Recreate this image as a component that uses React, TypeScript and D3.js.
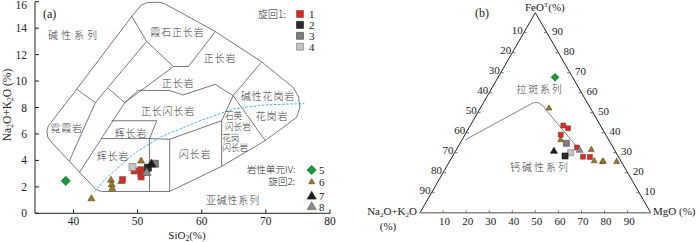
import React from 'react';
import * as d3 from 'd3';

// ---------- Panel (a) TAS data: [SiO2, Na2O+K2O] ----------
const tasRed = [[47.65, 2.55], [49.45, 3.2], [50.45, 3.3], [50.5, 3.0], [50.55, 2.75], [51.0, 3.1]];
const tasBlack = [[51.6, 3.45]];
const tasGray = [[52.7, 3.75]];
const tasLight = [[49.2, 3.5]];
const tasGreen = [[38.8, 2.45]];
const tasOlive = [[42.8, 1.1], [45.85, 2.5], [45.95, 2.15], [46.05, 1.85], [47.45, 2.4], [50.55, 3.95]];
const tasBlackTri = [[52.15, 3.7]];
const tasGrayTri = [[51.4, 3.05]];

const xTicks = [40, 50, 60, 70, 80];
const yTicks = [0, 2, 4, 6, 8, 10, 12, 14, 16];

// TAS field boundaries (Wilson 1989 plutonic), [SiO2, alkali]
const outerLine = [[36.1, 6.62], [40.5, 9.38], [49.1, 14.9], [50.6, 15.75], [51.6, 15.95], [53.5, 15.95], [54.2, 15.85], [62.1, 13.75], [69.35, 11.45], [74.3, 9.5], [75.1, 8.8], [75.3, 8.0], [74.8, 7.25], [69.9, 5.5], [63.1, 3.55], [55.0, 1.65], [44.4, 1.65], [43.6, 1.78], [43.2, 1.95], [36.7, 5.3], [36.0, 5.75], [35.85, 6.25], [36.1, 6.62]];
const lineB = [[40.5, 9.38], [43.4, 8.37]];
const lineC = [[43.4, 8.37], [51.4, 13.0]];
const lineE = [[43.4, 8.37], [39.35, 3.95]];
const linePhon = [[49.1, 14.9], [51.4, 13.0], [55.6, 11.1], [57.95, 11.1], [62.1, 13.75]];
const lineD = [[45.4, 9.45], [48.0, 8.37]];
const lineF = [[48.0, 8.37], [40.95, 3.11]];
const lineBen = [[48.0, 8.37], [50.1, 9.3], [55.0, 9.28], [57.1, 8.95], [62.1, 9.75], [64.9, 8.9]];
const lineTph = [[48.0, 8.37], [55.6, 11.1]];
const lineQd = [[63.1, 3.55], [63.1, 7.0], [64.9, 8.9], [69.35, 11.45]];
const lineGr = [[64.9, 8.9], [69.9, 5.5]];
const lineHaw = [[45.96, 7.0], [53.0, 7.0]];
const lineBas = [[44.4, 5.65], [51.85, 5.65], [55.0, 5.6], [63.1, 7.0]];
const lineBa = [[51.85, 1.65], [51.85, 5.65], [53.0, 7.0]];
const lineAnd = [[55.0, 1.65], [55.0, 5.6]];
const fieldLines = [outerLine, lineB, lineC, lineE, linePhon, lineD, lineF, lineBen, lineTph, lineQd, lineGr, lineHaw, lineBas, lineBa, lineAnd];

// Irvine & Baragar alkaline / subalkaline divide
const ibLine = [[43.3, 1.65], [45, 2.6], [48, 3.9], [50, 4.7], [53.7, 5.8], [57, 6.45], [60, 7.05], [65, 7.9], [70, 8.2], [76, 8.3]];

const tasLabels = [
  { t: '碱性系列', x: 40.1, y: 13.48, ls: 3 },
  { t: '霞石正长岩', x: 56.2, y: 13.7 },
  { t: '正长岩', x: 62.85, y: 11.74 },
  { t: '正长岩', x: 56.3, y: 9.85 },
  { t: '正长闪长岩', x: 54.74, y: 7.69 },
  { t: '碱性花岗岩', x: 70.33, y: 8.82 },
  { t: '花岗岩', x: 70.96, y: 7.3 },
  { t: '闪长岩', x: 58.95, y: 4.41 },
  { t: '亚碱性系列', x: 64.87, y: 0.95 },
  { t: '辉长岩', x: 48.97, y: 6.05 },
  { t: '辉长岩', x: 46.16, y: 4.28 },
  { t: '霓霞岩', x: 38.94, y: 6.43 },
];
const tasLabelsLeft = [
  { t: '石英', x: 63.63, y: 7.32 },
  { t: '闪长岩', x: 63.63, y: 6.55 },
  { t: '花岗', x: 63.2, y: 5.68 },
  { t: '闪长岩', x: 63.2, y: 4.9 },
];

// ---------- Panel (b) AFM data: [A, F, M] (%) ----------
const afmRed = [[16.1, 43.6, 40.3], [14.75, 42.2, 43.05], [19.5, 39.0, 41.5], [15.65, 32.6, 51.75], [15.35, 28.0, 56.65], [12.4, 27.85, 59.75]];
const afmOlive = [[18.0, 52.2, 29.8], [20.85, 36.35, 42.8], [10.0, 31.5, 58.5], [11.55, 25.85, 62.6], [8.3, 25.35, 66.35], [7.7, 25.7, 66.6], [2.0, 25.5, 72.5]];
const afmGreen = [[7.6, 67.7, 24.7]];
const afmGray = [[19.2, 34.7, 46.1]];
const afmLight = [[19.7, 30.0, 50.3]];
const afmBlack = [[22.95, 28.35, 48.7]];
const afmBlackTri = [[26.6, 30.7, 42.7]];
const afmGrayTri = [[15.2, 31.2, 53.6]];
const afmCurve = [[62.32, 36.35, 1.33], [23.4, 55.0, 21.6], [21.2, 55.0, 23.8], [19.85, 53.35, 26.8], [19.6, 51.0, 29.4], [15.6, 33.0, 51.4]];
const afmTicks = [10, 20, 30, 40, 50, 60, 70, 80, 90];

const red = '#e8241e';
const olive = '#9a7b2c';
const green = '#169a3c';
const lineCol = '#555';
const serif = "'Liberation Serif', 'Times New Roman', serif";
const cjk = "'Noto Sans CJK SC', sans-serif";

const xT = d3.scaleLinear().domain([34, 80]).range([35, 330]);
const yT = d3.scaleLinear().domain([0, 16]).range([213.3, 1.7]);
const tx = d3.scaleLinear().domain([0, 100]).range([420, 650.7]);
const ty = d3.scaleLinear().domain([0, 100]).range([212.7, 12.7]);
const tern = (p: number[]) => [tx(p[2] + p[1] / 2), ty(p[1])];

const tasLine = d3.line<number[]>().x(d => xT(d[0])).y(d => yT(d[1]));
const afmLine = d3.line<number[]>().x(d => tern(d)[0]).y(d => tern(d)[1]);

const sq = (s: number) => d3.symbol().type(d3.symbolSquare).size(s * s)() as string;
const tri = (w: number) => d3.symbol().type(d3.symbolTriangle).size((Math.sqrt(3) / 4) * w * w)() as string;

function Marks({ pts, pos, kind, size, fill, stroke }: any) {
  return (
    <g>
      {pts.map((p: number[], i: number) => {
        const [x, y] = pos(p);
        const d = kind === 'tri' ? tri(size) : sq(size);
        const rot = kind === 'dia' ? ' rotate(45)' : '';
        return <path key={i} d={d} transform={`translate(${x},${y})${rot}`} fill={fill} stroke={stroke} strokeWidth={0.6} />;
      })}
    </g>
  );
}

export default function App() {
  const posT = (p: number[]) => [xT(p[0]), yT(p[1])];
  const F = tern([0, 100, 0]);
  const A = tern([100, 0, 0]);
  const M = tern([0, 0, 100]);
  return (
    <svg width={700} height={242} style={{ position: 'absolute', left: 0, top: 0, background: '#fff' }}>
      {/* ================= Panel (a) ================= */}
      <g>
        {fieldLines.map((l, i) => (
          <path key={i} d={tasLine(l) as string} fill="none" stroke={lineCol} strokeWidth={0.8} />
        ))}
        <path d={tasLine(ibLine) as string} fill="none" stroke="#45b4e8" strokeWidth={1} strokeDasharray="2.5,1.6" />
        {tasLabels.map((l, i) => (
          <text key={i} x={xT(l.x)} y={yT(l.y) + 3.5} textAnchor="middle" style={{ fontFamily: cjk }} fontWeight={300} fontSize={10} fill="#3a3a3a" letterSpacing={l.ls ?? 0.8}>{l.t}</text>
        ))}
        {tasLabelsLeft.map((l, i) => (
          <text key={i} x={xT(l.x)} y={yT(l.y) + 3} textAnchor="start" style={{ fontFamily: cjk }} fontWeight={300} fontSize={8.6} fill="#3a3a3a">{l.t}</text>
        ))}
        {/* axes */}
        <line x1={xT(34)} x2={xT(80)} y1={yT(0)} y2={yT(0)} stroke="#222" strokeWidth={1} />
        <line x1={xT(34)} x2={xT(34)} y1={yT(0)} y2={yT(16)} stroke="#222" strokeWidth={1} />
        {xTicks.map(t => (
          <g key={t}>
            <line x1={xT(t)} x2={xT(t)} y1={yT(0)} y2={yT(0) - 4} stroke="#222" />
            <text x={xT(t)} y={yT(0) + 11.5} textAnchor="middle" style={{ fontFamily: serif }} fontSize={11.5} fill="#222">{t}</text>
          </g>
        ))}
        {yTicks.map(t => (
          <g key={t}>
            <line x1={xT(34)} x2={xT(34) + 4} y1={yT(t)} y2={yT(t)} stroke="#222" />
            <text x={xT(34) - 8} y={Math.max(yT(t) + 4, 8.5)} textAnchor="end" style={{ fontFamily: serif }} fontSize={11.5} fill="#222">{t}</text>
          </g>
        ))}
        <text x={187} y={238.5} textAnchor="middle" style={{ fontFamily: serif }} fontSize={11} fill="#222">SiO<tspan fontSize={7.5} dy={2}>2</tspan><tspan dy={-2}>(%)</tspan></text>
        <text transform={`translate(11,${105}) rotate(-90)`} textAnchor="middle" style={{ fontFamily: serif }} fontSize={11.5} fill="#222">
          Na<tspan fontSize={7.5} dy={2}>2</tspan><tspan dy={-2}>O+K</tspan><tspan fontSize={7.5} dy={2}>2</tspan><tspan dy={-2}>O (%)</tspan>
        </text>
        <text x={43} y={18} style={{ fontFamily: serif }} fontSize={12} fill="#222">(a)</text>

        {/* markers */}
        <Marks pts={tasOlive} pos={posT} kind="tri" size={7} fill={olive} stroke="#5a4718" />
        <Marks pts={tasRed} pos={posT} kind="sq" size={6} fill={red} stroke="#555" />
        <Marks pts={tasLight} pos={posT} kind="sq" size={7} fill="#c4c4c4" stroke="#777" />
        <Marks pts={tasBlack} pos={posT} kind="sq" size={7} fill="#2b2b2b" stroke="#111" />
        <Marks pts={tasGray} pos={posT} kind="sq" size={7} fill="#7d7d7d" stroke="#444" />
        <Marks pts={tasBlackTri} pos={posT} kind="tri" size={9} fill="#1e1e1e" stroke="#111" />
        <Marks pts={tasGrayTri} pos={posT} kind="tri" size={9} fill="#8c8c8c" stroke="#555" />
        <Marks pts={tasGreen} pos={posT} kind="dia" size={6.5} fill={green} stroke="#0b5d22" />

        {/* legend 1 */}
        <text x={258} y={17.5} style={{ fontFamily: cjk }} fontWeight={300} fontSize={10} fill="#222">旋回1:</text>
        {[[red, '#555'], ['#2b2b2b', '#111'], ['#7d7d7d', '#444'], ['#c4c4c4', '#777']].map((c, i) => (
          <g key={i}>
            <path d={sq(7)} transform={`translate(300,${14 + i * 10.9})`} fill={c[0]} stroke={c[1]} strokeWidth={0.6} />
            <text x={309} y={14 + i * 10.9 + 4} style={{ fontFamily: serif }} fontSize={11} fill="#222">{i + 1}</text>
          </g>
        ))}
        {/* legend 2 */}
        <text x={246.7} y={173} style={{ fontFamily: cjk }} fontWeight={300} fontSize={9.6} fill="#222">岩性单元IV:</text>
        <path d={sq(6.5)} transform="translate(311.7,170) rotate(45)" fill={green} stroke="#0b5d22" strokeWidth={0.6} />
        <text x={319} y={174} style={{ fontFamily: serif }} fontSize={11} fill="#222">5</text>
        <text x={268.3} y={185.3} style={{ fontFamily: cjk }} fontWeight={300} fontSize={9.6} fill="#222">旋回2:</text>
        <path d={tri(6)} transform="translate(311.7,182)" fill={olive} stroke="#5a4718" strokeWidth={0.6} />
        <text x={319} y={185.5} style={{ fontFamily: serif }} fontSize={11} fill="#222">6</text>
        <path d={tri(9)} transform="translate(311.7,196.5)" fill="#1e1e1e" stroke="#111" strokeWidth={0.6} />
        <text x={319} y={200} style={{ fontFamily: serif }} fontSize={11} fill="#222">7</text>
        <path d={tri(9)} transform="translate(311.7,207)" fill="#8c8c8c" stroke="#555" strokeWidth={0.6} />
        <text x={319} y={210.7} style={{ fontFamily: serif }} fontSize={11} fill="#222">8</text>
      </g>

      {/* ================= Panel (b) ================= */}
      <g>
        <line x1={A[0]} y1={A[1]} x2={F[0]} y2={F[1]} stroke="#222" strokeWidth={1} />
        <line x1={F[0]} y1={F[1]} x2={M[0]} y2={M[1]} stroke="#222" strokeWidth={1} />
        <line x1={A[0]} y1={A[1]} x2={M[0]} y2={M[1]} stroke="#888" strokeWidth={1.6} />
        {afmTicks.map(t => {
          const l = tern([t, 100 - t, 0]);
          const b = tern([100 - t, 0, t]);
          const rr = tern([0, t, 100 - t]);
          return (
            <g key={t}>
              <line x1={l[0]} y1={l[1]} x2={l[0] + 3} y2={l[1]} stroke="#444" strokeWidth={0.7} />
              <text x={l[0] - 1} y={l[1] + 0.8} textAnchor="end" style={{ fontFamily: serif }} fontSize={11} fill="#222">{t}</text>
              <line x1={rr[0]} y1={rr[1]} x2={rr[0] - 3} y2={rr[1]} stroke="#444" strokeWidth={0.7} />
              <text x={rr[0] + 5} y={rr[1] + 2} textAnchor="start" style={{ fontFamily: serif }} fontSize={11} fill="#222">{t}</text>
              <line x1={b[0]} y1={b[1]} x2={b[0]} y2={b[1] - 2.5} stroke="#444" strokeWidth={0.7} />
              <text x={b[0] + 1.5} y={b[1] + 12.5} textAnchor="middle" style={{ fontFamily: serif }} fontSize={11} fill="#222">{t}</text>
            </g>
          );
        })}
        <path d={afmLine(afmCurve) as string} fill="none" stroke="#777" strokeWidth={0.9} />
        <text x={540} y={92.8} textAnchor="middle" style={{ fontFamily: cjk }} fontWeight={300} fontSize={10} fill="#3a3a3a" letterSpacing={1.7}>拉斑系列</text>
        <text x={540} y={170.8} textAnchor="middle" style={{ fontFamily: cjk }} fontWeight={300} fontSize={10} fill="#3a3a3a" letterSpacing={2}>钙碱性系列</text>

        <text x={525} y={11} style={{ fontFamily: serif }} fontSize={11} fill="#222">FeO<tspan fontSize={7} dy={-4}>T</tspan><tspan dy={4}>(%)</tspan></text>
        <text x={417} y={215} textAnchor="end" style={{ fontFamily: serif }} fontSize={11} fill="#222">Na<tspan fontSize={7} dy={2}>2</tspan><tspan dy={-2}>O+K</tspan><tspan fontSize={7} dy={2}>2</tspan><tspan dy={-2}>O</tspan></text>
        <text x={388} y={230} textAnchor="middle" style={{ fontFamily: serif }} fontSize={11} fill="#222">(%)</text>
        <text x={653} y={215} style={{ fontFamily: serif }} fontSize={11} fill="#222">MgO (%)</text>
        <text x={475} y={17} style={{ fontFamily: serif }} fontSize={12} fill="#222">(b)</text>

        <Marks pts={afmOlive} pos={tern} kind="tri" size={6} fill={olive} stroke="#5a4718" />
        <Marks pts={afmRed} pos={tern} kind="sq" size={5} fill={red} stroke="#555" />
        <Marks pts={afmGray} pos={tern} kind="sq" size={6} fill="#7d7d7d" stroke="#444" />
        <Marks pts={afmLight} pos={tern} kind="sq" size={6} fill="#c4c4c4" stroke="#777" />
        <Marks pts={afmBlack} pos={tern} kind="sq" size={6} fill="#2b2b2b" stroke="#111" />
        <Marks pts={afmBlackTri} pos={tern} kind="tri" size={7} fill="#1e1e1e" stroke="#111" />
        <Marks pts={afmGrayTri} pos={tern} kind="tri" size={7} fill="#8c8c8c" stroke="#555" />
        <Marks pts={afmGreen} pos={tern} kind="dia" size={5.5} fill={green} stroke="#0b5d22" />
      </g>
    </svg>
  );
}
